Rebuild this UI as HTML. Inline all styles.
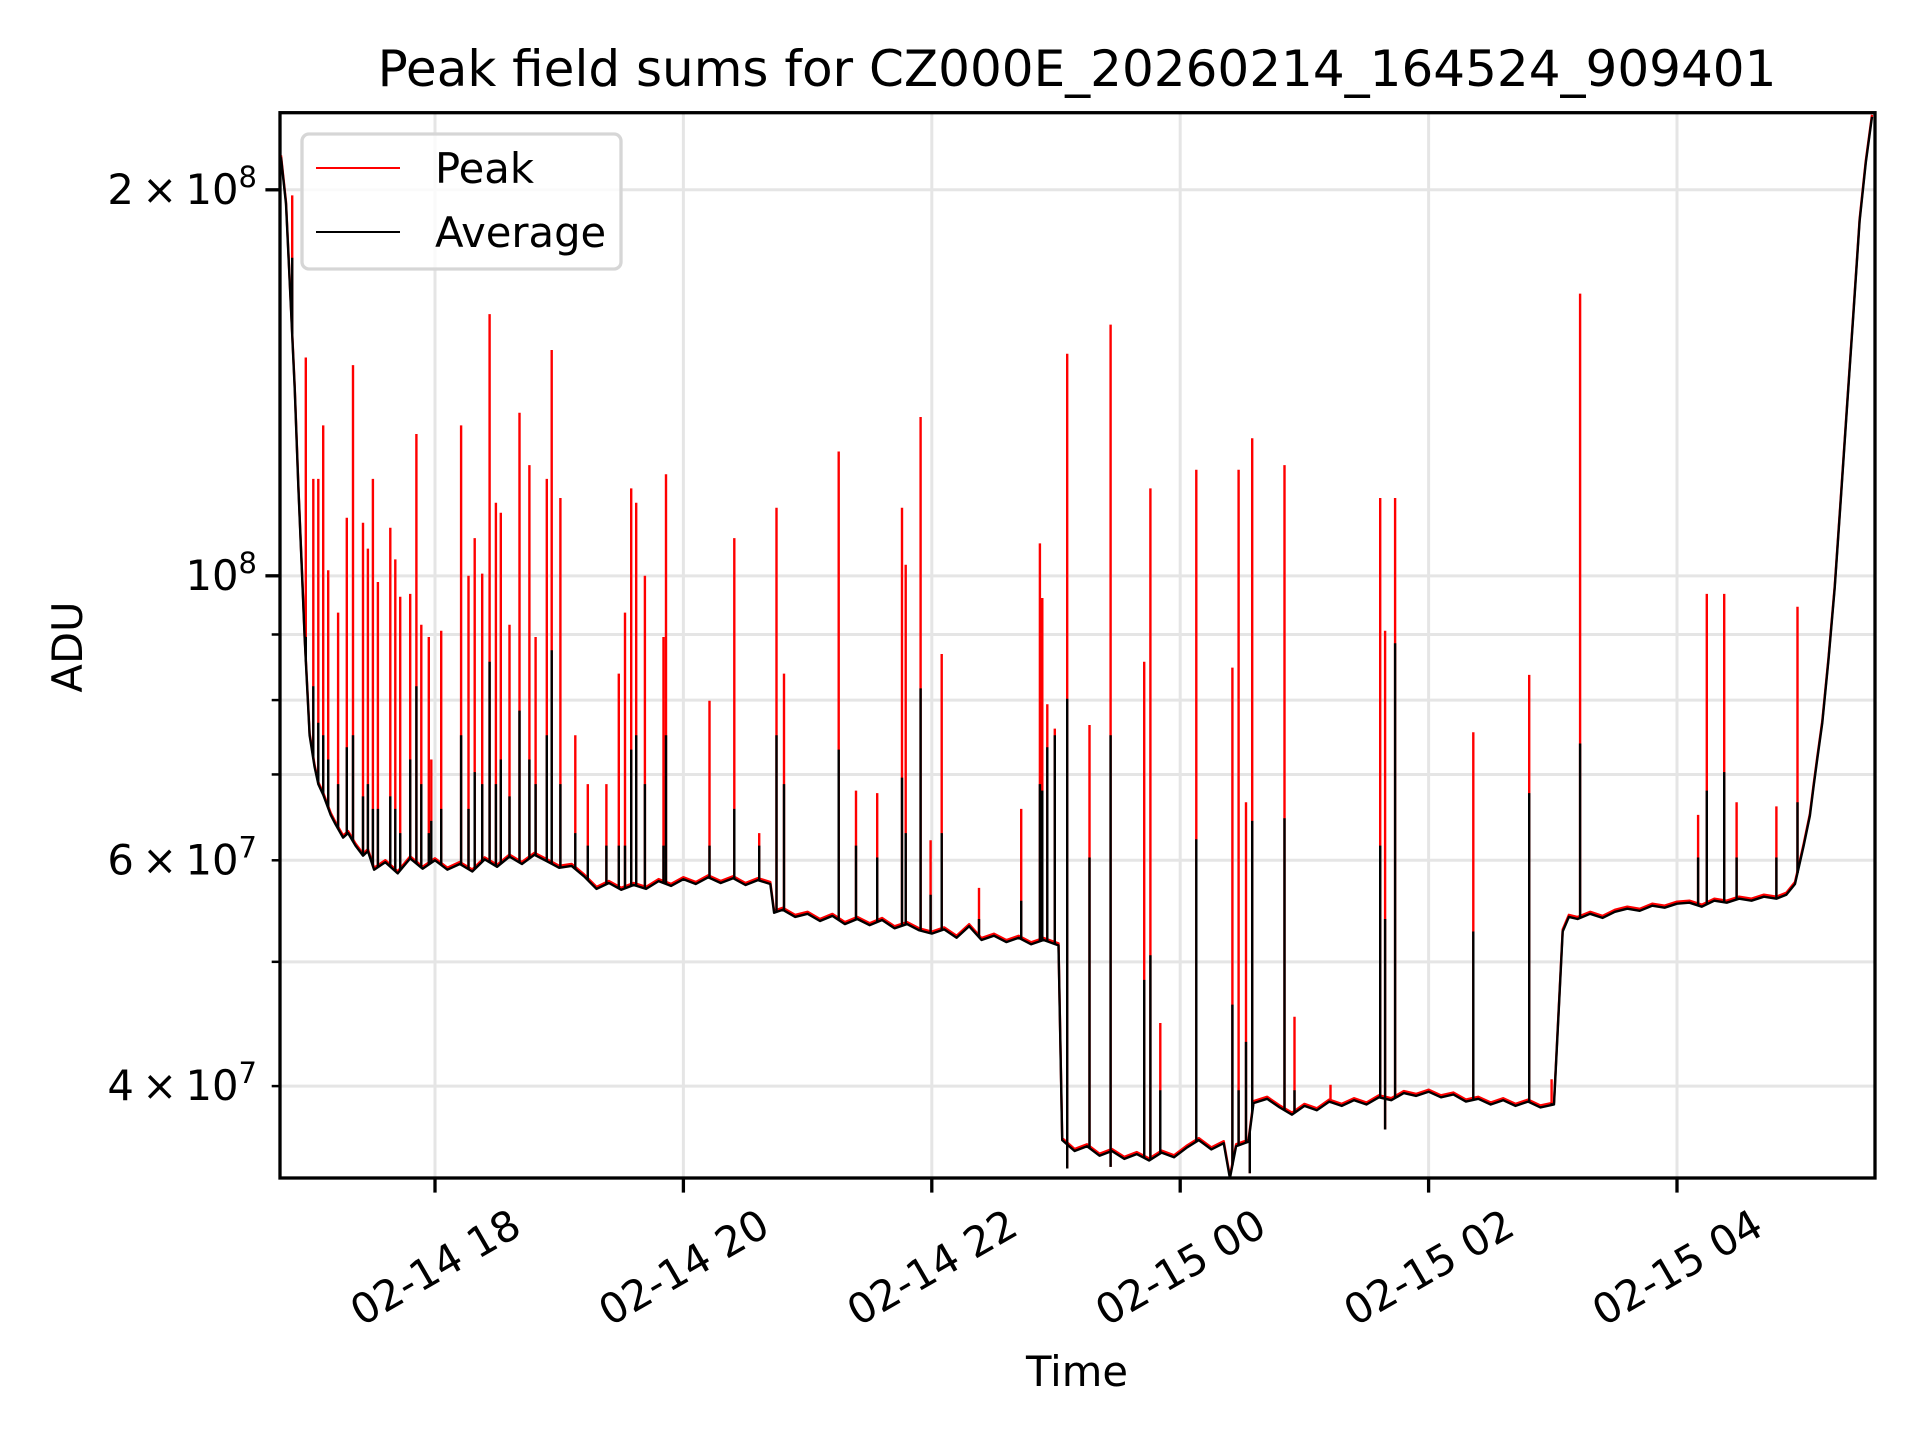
<!DOCTYPE html>
<html><head><meta charset="utf-8">
<style>
html,body{margin:0;padding:0;background:#fff;}
svg{display:block;font-family:"DejaVu Sans","Liberation Sans",sans-serif;}
</style></head>
<body>
<svg id="chart" width="1920" height="1440" viewBox="0 0 1920 1440" xmlns="http://www.w3.org/2000/svg">
<rect x="0" y="0" width="1920" height="1440" fill="#fff"/>
<text x="1077" y="86" font-size="50" text-anchor="middle">Peak field sums for CZ000E_20260214_164524_909401</text>
<g id="grid"></g>
<defs><clipPath id="clip"><rect x="280" y="112.7" width="1595" height="1065.3"/></clipPath></defs>
<g id="series" clip-path="url(#clip)"></g>
<g id="axes"></g>
<text x="1077" y="1386" font-size="41.7" text-anchor="middle">Time</text>
<text x="82" y="647" font-size="41.7" text-anchor="middle" transform="rotate(-90 82 647)">ADU</text>
<g>
<rect x="302" y="134" width="319" height="135" rx="7" fill="#fff" fill-opacity="0.8" stroke="#d6d6d6" stroke-width="3.3"/>
<line x1="316" y1="168" x2="400" y2="168" stroke="#ff0000" stroke-width="2"/>
<text x="435" y="183" font-size="41.7">Peak</text>
<line x1="316" y1="232" x2="400" y2="232" stroke="#000" stroke-width="2"/>
<text x="435" y="247" font-size="41.7">Average</text>
</g>
</svg>
<script>
// time in hours since 02-14 00:00, values in units of 1e6 ADU
const baseTimes = [16.76,16.80,16.84,16.87,16.90,16.93,16.95,16.99,17.03,17.06,17.1,17.16,17.2,17.26,17.3,17.36,17.42,17.46,17.51,17.6,17.7,17.8,17.9,18.0,18.1,18.2,18.3,18.4,18.5,18.6,18.7,18.8,18.9,19.0,19.1,19.2,19.3,19.4,19.5,19.6,19.7,19.8,19.9,20.0,20.1,20.2,20.3,20.4,20.5,20.6,20.7,20.73,20.8,20.9,21.0,21.1,21.2,21.3,21.4,21.5,21.6,21.7,21.8,21.9,22.0,22.1,22.2,22.3,22.4,22.5,22.6,22.7,22.8,22.9,23.02,23.05,23.15,23.25,23.35,23.45,23.55,23.65,23.75,23.85,23.95,24.05,24.15,24.25,24.35,24.40,24.45,24.55,24.59,24.7,24.8,24.9,25.0,25.1,25.2,25.3,25.4,25.5,25.6,25.7,25.8,25.9,26.0,26.1,26.2,26.3,26.4,26.5,26.6,26.7,26.8,26.9,27.01,27.08,27.13,27.2,27.3,27.4,27.5,27.6,27.7,27.8,27.9,28.0,28.1,28.2,28.3,28.4,28.5,28.6,28.7,28.8,28.88,28.95,29.02,29.07,29.1,29.13,29.17,29.22,29.27,29.32,29.37,29.42,29.47,29.52,29.57];
const avgValues = [212,195,162,140,117,100,89.6,75.1,71,68.8,67.5,65.1,64.0,62.5,63.0,61.6,60.5,61.0,59.0,59.8,58.6,60.2,59.1,60.0,59.0,59.6,58.8,60.1,59.3,60.4,59.6,60.6,59.9,59.2,59.4,58.3,57.0,57.6,56.9,57.4,57.0,57.8,57.3,58.0,57.5,58.2,57.6,58.1,57.4,57.9,57.5,54.6,54.9,54.2,54.5,53.8,54.3,53.5,54.0,53.4,53.9,53.1,53.5,52.9,52.6,53.0,52.2,53.3,52.0,52.4,51.8,52.2,51.6,52.0,51.5,36.3,35.6,35.9,35.3,35.6,35.1,35.4,35.0,35.5,35.2,35.8,36.3,35.7,36.1,33.9,35.9,36.2,38.8,39.1,38.5,38.0,38.6,38.3,38.9,38.6,39.0,38.7,39.2,39.0,39.5,39.3,39.6,39.2,39.4,38.9,39.1,38.7,39.0,38.6,38.9,38.5,38.7,52.8,54.2,54.0,54.5,54.1,54.7,55.0,54.8,55.3,55.1,55.5,55.6,55.2,55.8,55.6,56.0,55.8,56.2,56.0,56.4,57.5,61.6,65,68.5,72,76.8,86,97.8,115,136,160,189,210,228];
const spikeTimes = [16.85,16.96,17.02,17.06,17.10,17.14,17.22,17.29,17.34,17.42,17.46,17.50,17.54,17.64,17.68,17.72,17.80,17.85,17.89,17.95,17.97,18.05,18.21,18.27,18.32,18.38,18.44,18.49,18.53,18.60,18.68,18.76,18.81,18.90,18.94,19.01,19.13,19.23,19.38,19.48,19.53,19.58,19.62,19.69,19.84,19.86,20.21,20.41,20.61,20.75,20.81,21.25,21.39,21.56,21.76,21.79,21.91,21.99,22.08,22.38,22.72,22.87,22.89,22.93,22.99,23.09,23.27,23.44,23.71,23.76,23.84,24.13,24.42,24.47,24.53,24.58,24.84,24.92,25.21,25.61,25.65,25.73,26.36,26.81,26.99,27.22,28.17,28.24,28.38,28.48,28.80,28.97];
const spikePeak = [198,148,119,119,131,101,93.6,111,146,110,105,119,98.9,109,103,96.3,96.8,129,91.6,89.6,71.9,90.6,131,100,107,100.4,160,114,112,91.6,134,122,89.6,119,150,115,75.1,68.8,68.8,83.9,93.6,117,114,100,89.6,120,79.9,107,63.0,113,83.9,125,68.0,67.7,113,102,133,62.2,86.9,57.1,65.8,106,96.1,79.4,76.0,149,76.5,157,85.7,117,44.8,121,84.8,121,66.6,128,122,45.3,40.1,115,90.6,115,75.5,83.7,40.5,166,65.1,96.8,96.8,66.6,66.1,94.6];
const spikeAvg = [177,89.6,82,76.8,75.1,71.9,68.8,73.5,75.1,67.3,68.8,65.8,65.8,67.3,65.8,63.0,71.9,82.0,68.8,63.0,64.4,65.8,75.1,65.8,70.3,68.8,85.7,68.8,71.9,67.3,78.5,71.9,68.8,75.1,87.5,68.8,63.0,61.6,61.6,61.6,61.6,73.2,75.1,68.8,61.6,75.1,61.6,65.8,61.6,75.1,68.8,73.2,61.6,60.3,69.6,63.0,81.7,56.4,63.0,54.0,55.8,68.8,68.0,73.5,75.1,80.2,60.3,75.1,48.4,50.6,39.7,62.3,46.3,39.7,43.3,64.4,64.7,39.7,38.8,61.6,54.0,88.6,52.8,67.7,38.8,74.0,60.3,68.0,70.3,60.3,60.3,66.6];
const dipTimes = [23.09,23.44,24.40,24.56,25.65];
const dipValues = [34.5,34.6,33.9,34.2,37.0];
const xTickHours = [18,20,22,24,26,28];
const xTickLabels = ["02-14 18","02-14 20","02-14 22","02-15 00","02-15 02","02-15 04"];
const yMajorValues = [100,200];
const yMajorMant = ["","2"];
const yMajorExp = ["8","8"];
const yMinorValues = [40,50,60,70,80,90];
const yMinorLabels = ["4","","6","","",""];

const NS="http://www.w3.org/2000/svg";
const L=280,R=1875,T=112.7,B=1178;
function xs(h){return 435+(h-18)*124.2;}
function ys(v){return 189.8+(Math.log(200)-Math.log(v))*556.9;}
function mk(tag,attrs,parent){const e=document.createElementNS(NS,tag);for(const k in attrs)e.setAttribute(k,attrs[k]);parent.appendChild(e);return e;}
function baseAt(h){for(let i=0;i<baseTimes.length-1;i++){if(h>=baseTimes[i]&&h<=baseTimes[i+1]){const f=(h-baseTimes[i])/(baseTimes[i+1]-baseTimes[i]);return Math.exp(Math.log(avgValues[i])*(1-f)+Math.log(avgValues[i+1])*f);}}return avgValues[avgValues.length-1];}

const grid=document.getElementById('grid'),series=document.getElementById('series'),axes=document.getElementById('axes');
xTickHours.forEach((h,i)=>{const g=mk('line',{x1:xs(h),x2:xs(h),y1:T,y2:B,stroke:'#e5e5e5','stroke-width':3},grid);

});
yMajorValues.concat(yMinorValues).forEach(v=>{const g=mk('line',{x1:L,x2:R,y1:ys(v),y2:ys(v),stroke:'#e5e5e5','stroke-width':3},grid);

});

function drawSeries(color,vals,name,dy){
  let d='';baseTimes.forEach((t,i)=>{d+=(i?'L':'M')+xs(t).toFixed(1)+' '+(ys(avgValues[i])+dy).toFixed(1);});
  const p=mk('path',{d:d,fill:'none',stroke:color,'stroke-width':2.4,'stroke-linejoin':'round'},series);
  
  
  let s='';
  spikeTimes.forEach((t,i)=>{const x=xs(t).toFixed(1);s+='M'+x+' '+ys(baseAt(t)).toFixed(1)+'L'+x+' '+ys(vals[i]).toFixed(1);});
  dipTimes.forEach((t,i)=>{const x=xs(t).toFixed(1);s+='M'+x+' '+ys(baseAt(t)).toFixed(1)+'L'+x+' '+ys(dipValues[i]).toFixed(1);});
  const q=mk('path',{d:s,fill:'none',stroke:color,'stroke-width':2.4},series);
  
  
}
drawSeries('#ff0000',spikePeak,'peak',-2);
drawSeries('#000000',spikeAvg,'average',0);

const frame=mk('rect',{x:L,y:T,width:R-L,height:B-T,fill:'none',stroke:'#000','stroke-width':3.3},axes);


xTickHours.forEach((h,i)=>{const x=xs(h);
  const t=mk('line',{x1:x,x2:x,y1:B,y2:B+14.6,stroke:'#000','stroke-width':3.3},axes);
  
  
  const cy=B+89;
  const tx=mk('text',{x:x,y:cy+15,'font-size':41.7,'text-anchor':'middle',transform:'rotate(-30 '+x+' '+cy+')'},axes);
  tx.textContent=xTickLabels[i];
  
  });
function ylabel(y,mant,exp){
  const tx=mk('text',{x:257,y:y+14,'font-size':41.7,'text-anchor':'end'},axes);
  
  
  let s=(mant?mant+'\u2009\u00d7\u200910':'10');
  tx.appendChild(document.createTextNode(s));
  const sp=document.createElementNS(NS,'tspan');sp.setAttribute('dy','-17');sp.setAttribute('font-size','29');sp.textContent=exp;tx.appendChild(sp);
}
yMajorValues.forEach((v,i)=>{const y=ys(v);
  const t=mk('line',{x1:L-14.6,x2:L,y1:y,y2:y,stroke:'#000','stroke-width':3.3},axes);
  
  
  ylabel(y,yMajorMant[i],yMajorExp[i]);});
yMinorValues.forEach((v,i)=>{const y=ys(v);
  const t=mk('line',{x1:L-8.3,x2:L,y1:y,y2:y,stroke:'#000','stroke-width':2.5},axes);
  
  
  if(yMinorLabels[i])ylabel(y,yMinorLabels[i],'7');});
</script>
</body></html>
